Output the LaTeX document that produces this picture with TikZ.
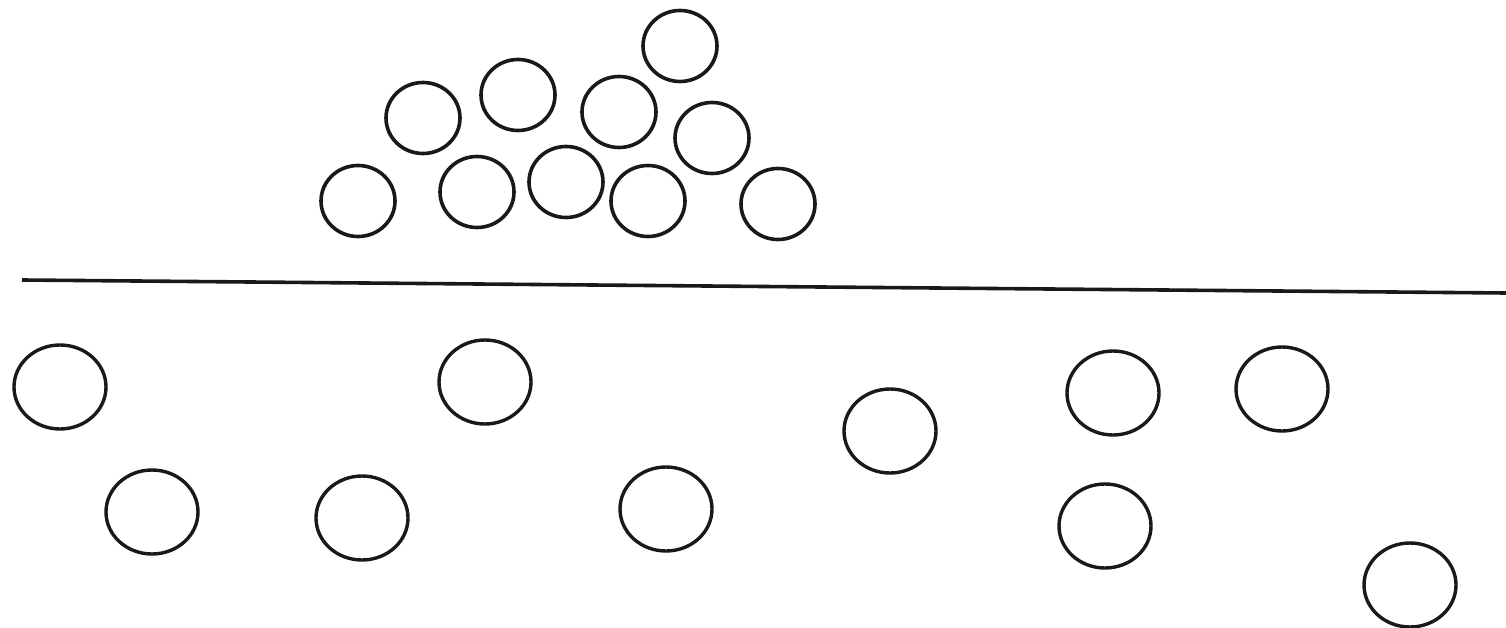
\documentclass[tikz,border=0pt]{standalone}
\usepackage{tikz}
\usetikzlibrary{shapes.geometric}

\begin{document}
\begin{tikzpicture}[
    x=1pt, y=-1pt,
    ball/.style={ellipse, draw=black!90, line width=3.6pt, minimum width=74pt, minimum height=71pt, inner sep=0pt},
    gas/.style={ellipse, draw=black!90, line width=3.4pt, minimum width=92pt, minimum height=84pt, inner sep=0pt},
    surface/.style={line width=3.6pt, color=black!90}
]
    \useasboundingbox (0, 0) rectangle (1506, 628);

    % packed particles above the line
    \node[ball] (t1) at (680, 46) {};
    \node[ball] (t2) at (518, 95) {};
    \node[ball] (t3) at (423, 118) {};
    \node[ball] (t4) at (619, 112) {};
    \node[ball] (t5) at (712, 138) {};
    \node[ball] (t6) at (358, 201) {};
    \node[ball] (t7) at (477, 192) {};
    \node[ball] (t8) at (566, 182) {};
    \node[ball] (t9) at (648, 201) {};
    \node[ball] (t10) at (778, 204) {};

    % dividing line
    \coordinate (left) at (22, 280);
    \coordinate (right) at (1506, 293);
    \draw[surface] (left) -- (right);

    % free particles below the line
    \node[gas] (b1) at (60, 387) {};
    \node[gas] (b2) at (485, 382) {};
    \node[gas] (b3) at (890, 431) {};
    \node[gas] (b4) at (1113, 393) {};
    \node[gas] (b5) at (1282, 389) {};
    \node[gas] (b6) at (152, 512) {};
    \node[gas] (b7) at (362, 518) {};
    \node[gas] (b8) at (666, 509) {};
    \node[gas] (b9) at (1105, 526) {};
    \node[gas] (b10) at (1410, 585) {};
\end{tikzpicture}
\end{document}
